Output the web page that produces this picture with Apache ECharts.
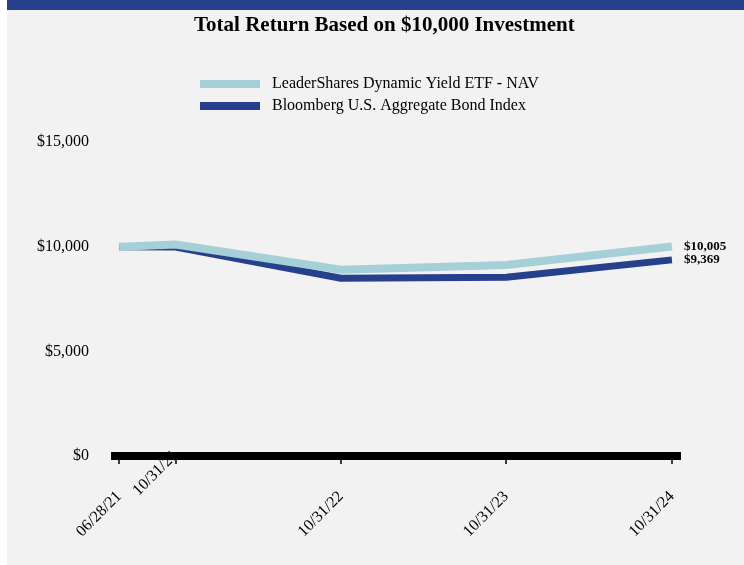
<!DOCTYPE html>
<html>
<head>
<meta charset="utf-8">
<script src="https://cdn.jsdelivr.net/npm/echarts@6/dist/echarts.min.js"></script>
<style>
  html, body { margin: 0; padding: 0; background: #ffffff; }
  #chart { width: 744px; height: 565px; }
</style>
</head>
<body>
<div id="chart"></div>
<script>
const dates = ["2021-06-28", "2021-10-31", "2022-10-31", "2023-10-31", "2024-10-31"];
const navValues = [10000, 10100, 8900, 9120, 10005];
const bondValues = [10000, 9980, 8490, 8540, 9369];
const navName = "LeaderShares Dynamic Yield ETF - NAV";
const bondName = "Bloomberg U.S. Aggregate Bond Index";

const serif = "Liberation Serif";
const DAY = 86400000;

function toTime(d) {
  return Date.UTC(+d.slice(0, 4), +d.slice(5, 7) - 1, +d.slice(8, 10));
}

function fmtDate(v) {
  const d = new Date(v);
  const mm = String(d.getUTCMonth() + 1).padStart(2, "0");
  const dd = String(d.getUTCDate()).padStart(2, "0");
  const yy = String(d.getUTCFullYear()).slice(2);
  return mm + "/" + dd + "/" + yy;
}

function money(v) {
  return "$" + Math.round(v).toLocaleString("en-US");
}

const tickTimes = dates.map(toTime);
const mainLabels = tickTimes.filter((t, i) => i !== 1);
const shiftedLabels = [tickTimes[1]];
const axisMin = tickTimes[0] - 18 * DAY;
const axisMax = tickTimes[tickTimes.length - 1] + 20 * DAY;

const chart = echarts.init(document.getElementById("chart"));

const option = {
  animation: false,
  backgroundColor: "#ffffff",
  graphic: [
    { type: "rect", z: -10, shape: { x: 7, y: 0, width: 737, height: 565 }, style: { fill: "#f2f2f2" } },
    { type: "rect", z: -9, shape: { x: 7, y: 0, width: 737, height: 10 }, style: { fill: "#26408b" } }
  ],
  title: {
    text: "Total Return Based on $10,000 Investment",
    left: 189,
    top: 10,
    textStyle: { fontFamily: serif, fontSize: 21, fontWeight: "bold", color: "#000" }
  },
  legend: {
    orient: "vertical",
    left: 195,
    top: 71,
    icon: "rect",
    itemWidth: 60,
    itemHeight: 8,
    itemGap: 6,
    data: [navName, bondName],
    textStyle: { fontFamily: serif, fontSize: 16, color: "#000", padding: [0, 0, 0, 7] }
  },
  grid: { left: 111, right: 63, top: 142, bottom: 109 },
  xAxis: [
    {
      type: "value",
      min: axisMin,
      max: axisMax,
      z: 2,
      axisLine: { show: true, lineStyle: { color: "#000", width: 8, cap: "butt" } },
      axisTick: { show: true, customValues: tickTimes, length: 8, lineStyle: { color: "#000", width: 1.5 } },
      axisLabel: {
        customValues: mainLabels,
        rotate: 45,
        margin: 38,
        formatter: fmtDate,
        fontFamily: serif,
        fontSize: 16,
        color: "#000"
      },
      splitLine: { show: false }
    },
    {
      type: "value",
      position: "bottom",
      min: axisMin,
      max: axisMax,
      z: 1,
      axisLine: { show: false },
      axisTick: { show: false },
      axisLabel: {
        customValues: shiftedLabels,
        rotate: 45,
        margin: -3,
        formatter: fmtDate,
        fontFamily: serif,
        fontSize: 16,
        color: "#000"
      },
      splitLine: { show: false }
    }
  ],
  yAxis: {
    type: "value",
    min: 0,
    max: 15000,
    interval: 5000,
    axisLine: { show: false },
    axisTick: { show: false },
    splitLine: { show: false },
    axisLabel: {
      margin: 22,
      formatter: money,
      fontFamily: serif,
      fontSize: 16,
      color: "#000"
    }
  },
  series: [
    {
      name: bondName,
      type: "line",
      symbol: "none",
      z: 2,
      data: dates.map((d, i) => [toTime(d), bondValues[i]]),
      lineStyle: { color: "#26408b", width: 7 },
      itemStyle: { color: "#26408b" },
      endLabel: {
        show: true,
        distance: 12,
        formatter: p => money(p.value[1]),
        fontFamily: serif,
        fontSize: 13,
        fontWeight: "bold",
        color: "#000"
      }
    },
    {
      name: navName,
      type: "line",
      symbol: "none",
      z: 3,
      data: dates.map((d, i) => [toTime(d), navValues[i]]),
      lineStyle: { color: "#a6d0d7", width: 8 },
      itemStyle: { color: "#a6d0d7" },
      endLabel: {
        show: true,
        distance: 12,
        formatter: p => money(p.value[1]),
        fontFamily: serif,
        fontSize: 13,
        fontWeight: "bold",
        color: "#000"
      }
    }
  ]
};

chart.setOption(option);
</script>
</body>
</html>
